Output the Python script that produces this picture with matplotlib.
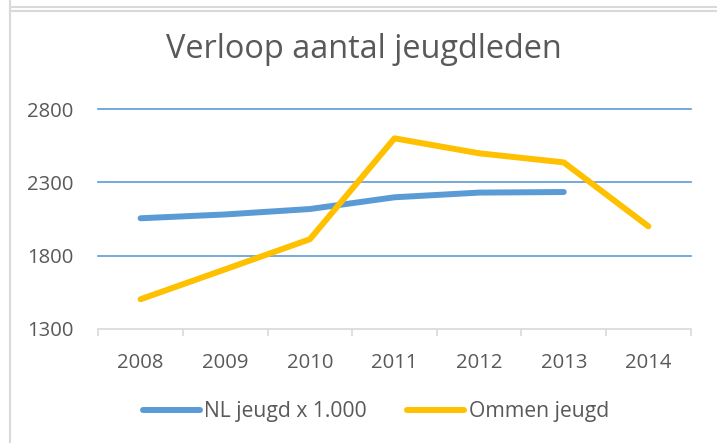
import matplotlib
matplotlib.use("Agg")
import matplotlib.pyplot as plt
from matplotlib.lines import Line2D

years = ["2008", "2009", "2010", "2011", "2012", "2013", "2014"]
nl_jeugd = [2055, 2081, 2118, 2198, 2230, 2234]
ommen_jeugd = [1503, 1707, 1912, 2600, 2498, 2436, 2000]
yticks = [1300, 1800, 2300, 2800]

title = "Verloop aantal jeugdleden"
labels = ["NL jeugd x 1.000", "Ommen jeugd"]
blue = "#5B9BD5"
yellow = "#FFC000"
txt = "#595959"
font = "Open Sans"

plt.rcParams['font.family'] = [font, 'DejaVu Sans']

fig = plt.figure(figsize=(7.17, 4.43), dpi=100)
W, H = 717, 443
ax = fig.add_axes([98.3 / W, 1 - 329 / H, (690.7 - 98.3) / W, (329 - 109) / H])

x = list(range(len(years)))
ax.plot(x[:len(nl_jeugd)], nl_jeugd, color=blue, lw=4.3, solid_capstyle='round', solid_joinstyle='round', zorder=3)
ax.plot(x, ommen_jeugd, color=yellow, lw=4.3, solid_capstyle='round', solid_joinstyle='round', zorder=3)

ax.set_xlim(-0.5, len(years) - 0.5)
ax.set_ylim(1300, 2800)
ax.set_yticks(yticks)
ax.set_yticklabels([str(v) for v in yticks])
ax.set_xticks(x)
ax.set_xticklabels(years)
ax.set_xticks([i - 0.5 for i in range(len(years) + 1)], minor=True)

for yv in yticks[1:]:
    ax.axhline(yv, color=blue, lw=1.2, zorder=1, clip_on=False)

for s in ["top", "right", "left"]:
    ax.spines[s].set_visible(False)
ax.spines["bottom"].set_color("#d9d9d9")
ax.spines["bottom"].set_linewidth(1.2)

ax.tick_params(axis='y', length=0, pad=18, labelsize=14.6, labelcolor=txt)
ax.tick_params(axis='x', which='major', length=0, pad=17, labelsize=14.6, labelcolor=txt)
ax.tick_params(axis='x', which='minor', length=5, width=1.2, color="#d9d9d9")

fig.text(363.5 / W, 1 - 58 / H, title, ha='center', va='baseline', fontsize=23.4, color=txt)

handles = [Line2D([], [], color=blue, lw=4.3, solid_capstyle='round'),
           Line2D([], [], color=yellow, lw=4.3, solid_capstyle='round')]
fig.legend(handles, labels, loc='center', bbox_to_anchor=(376 / W, 1 - 412 / H), ncol=2,
           frameon=False, fontsize=15.2, handlelength=2.7, handletextpad=0.2, columnspacing=1.9,
           labelcolor=txt)

# chart frame lines
fig.add_artist(Line2D([10 / W, 10 / W], [0, 1], color="#d9d9d9", lw=1.5))
fig.add_artist(Line2D([10 / W, 1], [1 - 6.7 / H, 1 - 6.7 / H], color="#d9d9d9", lw=1.5))
fig.add_artist(Line2D([10 / W, 1], [1 - 10.7 / H, 1 - 10.7 / H], color="#d9d9d9", lw=1.5))

fig.savefig("out.png", dpi=100)
